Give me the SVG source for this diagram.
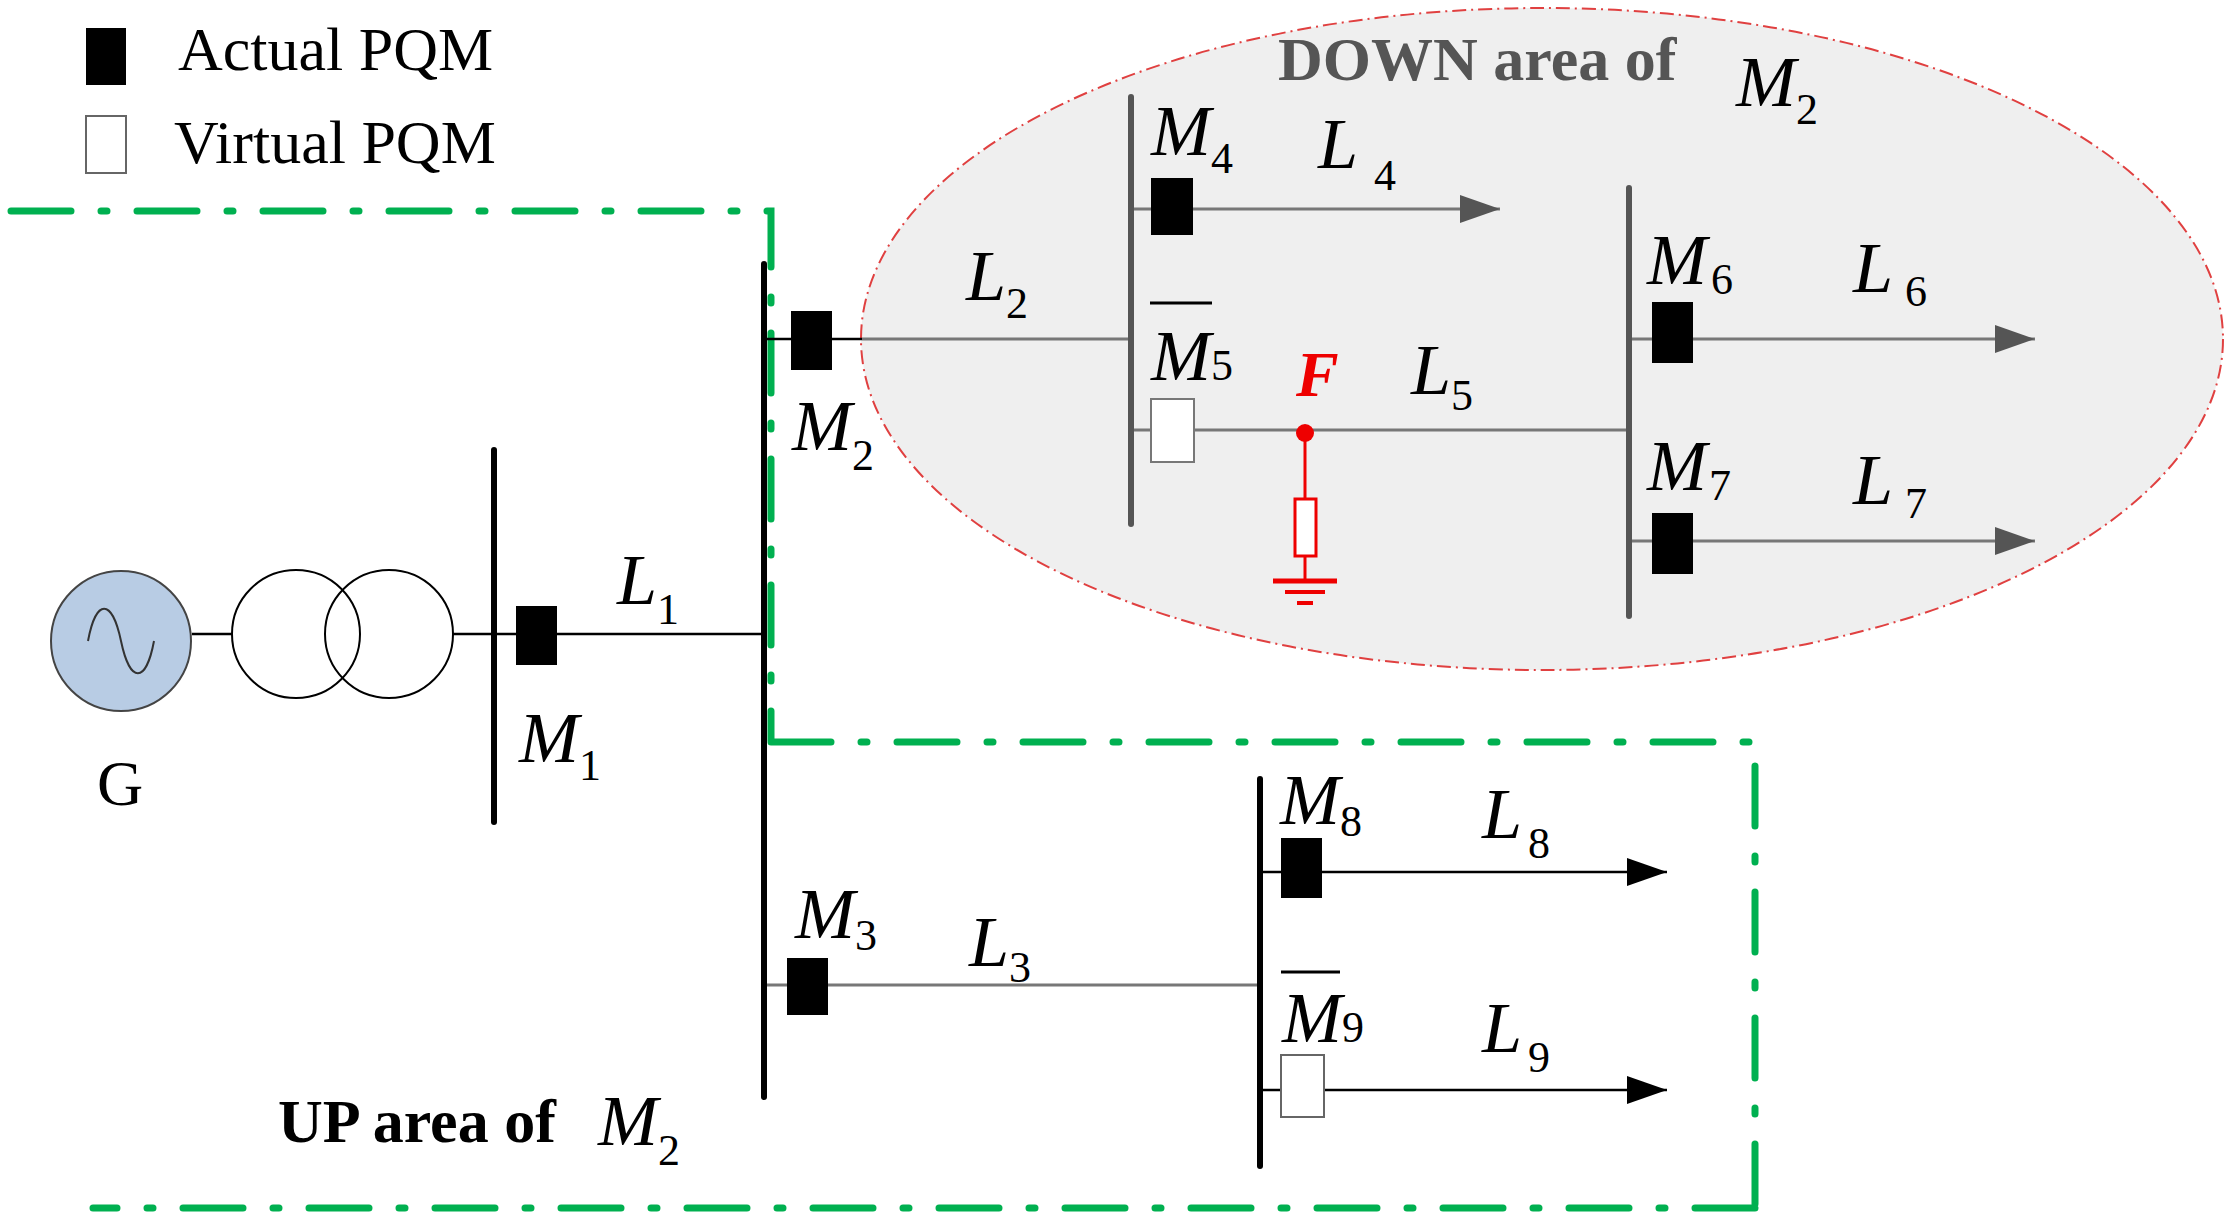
<svg xmlns="http://www.w3.org/2000/svg" width="2230" height="1228" viewBox="0 0 2230 1228">
<style>
.t{font-family:"Liberation Serif",serif;font-size:72px;font-style:italic;fill:#000}
.s{font-size:44px;font-style:normal}
.g{stroke:#777;stroke-width:3;fill:none}
.k{stroke:#000;stroke-width:2.5;fill:none}
.bus{stroke-width:6;stroke-linecap:round}
.grn{stroke:#00b050;stroke-width:7;fill:none;stroke-dasharray:60 30 6 30;stroke-linecap:round}
</style>
<defs>
<marker id="ag" markerWidth="40" markerHeight="28" refX="40" refY="14" orient="auto" markerUnits="userSpaceOnUse" viewBox="0 0 40 28"><path d="M0,0L40,14L0,28z" fill="#555"/></marker>
<marker id="ak" markerWidth="40" markerHeight="28" refX="40" refY="14" orient="auto" viewBox="0 0 40 28" markerUnits="userSpaceOnUse"><path d="M0,0L40,14L0,28z" fill="#000"/></marker>
</defs>
<rect width="2230" height="1228" fill="#fff"/>
<g id="legend">
<rect x="86" y="28" width="40" height="57" fill="#000"/>
<text x="178" y="70" style="font-family:'Liberation Serif',serif;font-size:62px">Actual PQM</text>
<rect x="86" y="116" width="40" height="57" fill="#fff" stroke="#666" stroke-width="2"/>
<text x="174" y="163" style="font-family:'Liberation Serif',serif;font-size:62px">Virtual PQM</text>
</g>
<g id="down-area">
<ellipse cx="1542" cy="339" rx="681" ry="331" fill="#efefef" stroke="#e04040" stroke-width="2" stroke-dasharray="14 5 2 5"/>
<text x="1278" y="80" style="font-family:'Liberation Serif',serif;font-size:62px;font-weight:bold;fill:#555">DOWN area of</text>
<text class="t" x="1736" y="106">M<tspan class="s" dy="18">2</tspan></text>
</g>
<g id="up-area">
<path class="grn" d="M11,211H771V741M771,742H1755V1208M1755,1208H93"/>
<text x="278" y="1142" style="font-family:'Liberation Serif',serif;font-size:62px;font-weight:bold">UP area of</text>
<text class="t" x="598" y="1145">M<tspan class="s" dy="20">2</tspan></text>
</g>
<g id="connectors">
<line class="k" x1="192" y1="634" x2="232" y2="634"/>
<line class="k" x1="453" y1="634" x2="764" y2="634"/>
<line class="k" x1="764" y1="339" x2="862" y2="339"/>
<line class="g" x1="862" y1="339" x2="1131" y2="339"/>
<line class="g" x1="1131" y1="209" x2="1500" y2="209" marker-end="url(#ag)"/>
<line class="g" x1="1131" y1="430" x2="1629" y2="430"/>
<line class="g" x1="1629" y1="339" x2="2035" y2="339" marker-end="url(#ag)"/>
<line class="g" x1="1629" y1="541" x2="2035" y2="541" marker-end="url(#ag)"/>
<line x1="764" y1="985" x2="1260" y2="985" stroke="#777" stroke-width="3"/>
<line class="k" x1="1260" y1="872" x2="1667" y2="872" marker-end="url(#ak)"/>
<line class="k" x1="1260" y1="1090" x2="1667" y2="1090" marker-end="url(#ak)"/>
</g>
<g id="G">
<circle cx="121" cy="641" r="70" fill="#b8cce4" stroke="#444" stroke-width="2"/>
<path d="M88,641C96,598 112,598 121,641S146,684 154,641" fill="none" stroke="#333" stroke-width="2"/>
<text x="97" y="805" style="font-family:'Liberation Serif',serif;font-size:64px">G</text>
</g>
<g id="transformer">
<circle cx="296" cy="634" r="64" fill="none" stroke="#000" stroke-width="2"/>
<circle cx="389" cy="634" r="64" fill="none" stroke="#000" stroke-width="2"/>
</g>
<g id="buses">
<line class="bus" x1="494" y1="450" x2="494" y2="822" stroke="#000"/>
<line class="bus" x1="764" y1="264" x2="764" y2="1097" stroke="#000"/>
<line class="bus" x1="1131" y1="97" x2="1131" y2="524" stroke="#555"/>
<line class="bus" x1="1629" y1="188" x2="1629" y2="616" stroke="#555"/>
<line class="bus" x1="1260" y1="779" x2="1260" y2="1166" stroke="#000"/>
</g>
<g id="M1"><rect x="516" y="606" width="41" height="59"/><text class="t" x="519" y="762">M<tspan class="s" dy="18">1</tspan></text></g>
<g id="L1"><text class="t" x="617" y="604">L<tspan class="s" dy="20">1</tspan></text></g>
<g id="M2"><rect x="791" y="311" width="41" height="59"/><text class="t" x="792" y="450">M<tspan class="s" dy="20">2</tspan></text></g>
<g id="L2"><text class="t" x="966" y="300">L<tspan class="s" dy="18">2</tspan></text></g>
<g id="M4"><rect x="1151" y="178" width="42" height="57"/><text class="t" x="1151" y="155">M<tspan class="s" dy="18">4</tspan></text></g>
<g id="L4"><text class="t" x="1318" y="168">L<tspan class="s" dy="22" dx="16">4</tspan></text></g>
<g id="M5"><rect x="1151" y="399" width="43" height="63" fill="#fff" stroke="#777" stroke-width="2"/><line x1="1150" y1="303" x2="1212" y2="303" stroke="#000" stroke-width="3"/><text class="t" x="1151" y="380">M<tspan class="s">5</tspan></text></g>
<g id="F">
<line x1="1305" y1="433" x2="1305" y2="499" stroke="#e00" stroke-width="3"/>
<rect x="1295" y="499" width="21" height="57" fill="#fff" stroke="#e00" stroke-width="3"/>
<line x1="1305" y1="556" x2="1305" y2="581" stroke="#e00" stroke-width="3"/>
<line x1="1273" y1="581" x2="1337" y2="581" stroke="#e00" stroke-width="5"/>
<line x1="1285" y1="592" x2="1325" y2="592" stroke="#e00" stroke-width="4"/>
<line x1="1297" y1="603" x2="1313" y2="603" stroke="#e00" stroke-width="4"/>
<circle cx="1305" cy="433" r="9" fill="#e00"/>
<text x="1296" y="396" style="font-family:'Liberation Serif',serif;font-size:64px;font-weight:bold;font-style:italic;fill:#e00">F</text>
</g>
<g id="L5"><text class="t" x="1411" y="394">L<tspan class="s" dy="16">5</tspan></text></g>
<g id="M6"><rect x="1652" y="302" width="41" height="61"/><text class="t" x="1647" y="284">M<tspan class="s" dy="10" dx="4">6</tspan></text></g>
<g id="L6"><text class="t" x="1853" y="292">L<tspan class="s" dy="14" dx="12">6</tspan></text></g>
<g id="M7"><rect x="1652" y="513" width="41" height="61"/><text class="t" x="1647" y="490">M<tspan class="s" dy="10" dx="2">7</tspan></text></g>
<g id="L7"><text class="t" x="1853" y="504">L<tspan class="s" dy="14" dx="12">7</tspan></text></g>
<g id="M3"><rect x="787" y="958" width="41" height="57"/><text class="t" x="795" y="938">M<tspan class="s" dy="12">3</tspan></text></g>
<g id="L3"><text class="t" x="969" y="966">L<tspan class="s" dy="16">3</tspan></text></g>
<g id="M8"><rect x="1281" y="838" width="41" height="60"/><text class="t" x="1280" y="824">M<tspan class="s" dy="12">8</tspan></text></g>
<g id="L8"><text class="t" x="1482" y="838">L<tspan class="s" dy="20" dx="6">8</tspan></text></g>
<g id="M9"><rect x="1281" y="1055" width="43" height="62" fill="#fff" stroke="#666" stroke-width="2"/><line x1="1281" y1="972" x2="1340" y2="972" stroke="#000" stroke-width="3"/><text class="t" x="1282" y="1042">M<tspan class="s">9</tspan></text></g>
<g id="L9"><text class="t" x="1482" y="1052">L<tspan class="s" dy="20" dx="6">9</tspan></text></g>
</svg>
